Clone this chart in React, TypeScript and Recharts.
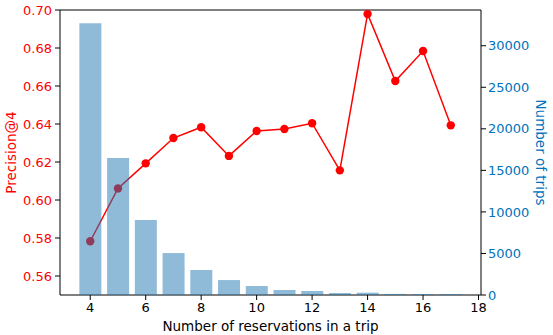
import {
  ComposedChart,
  Bar,
  Line,
  XAxis,
  YAxis,
  ReferenceLine,
  Label,
} from "recharts";

const reservations = [4, 5, 6, 7, 8, 9, 10, 11, 12, 13, 14, 15, 16, 17];
const precision = [
  0.5783, 0.6061, 0.6193, 0.6326, 0.6383, 0.6232, 0.6363, 0.6374, 0.6404,
  0.6156, 0.6979, 0.6626, 0.6784, 0.6393,
];
const trips = [
  32700, 16490, 9020, 5050, 3010, 1800, 1080, 600, 480, 240, 280, 130, 120,
  120,
];
const xTicks = [4, 6, 8, 10, 12, 14, 16, 18];
const leftTicks = [0.56, 0.58, 0.6, 0.62, 0.64, 0.66, 0.68, 0.7];
const rightTicks = [0, 5000, 10000, 15000, 20000, 25000, 30000];

const data = reservations.map((r, i) => ({
  n: r,
  precision: precision[i],
  trips: trips[i],
}));

const FONT = "DejaVu Sans, sans-serif";
const RED = "#ff0000";
const BLUE = "#0072bd";
const W = 553;
const H = 335;
const MARGIN = { top: 10, right: 0, bottom: 0, left: 0 };
const X_DOMAIN = [2.91, 18.09];
const RIGHT_DOMAIN = [0, 34300];

// matplotlib draws the twin-axis bars over the line, so the bars live in a
// second chart laid on top of the first one
function BarLayer() {
  return (
    <ComposedChart width={W} height={H} data={data} margin={MARGIN}>
      <XAxis
        dataKey="n"
        type="number"
        domain={X_DOMAIN}
        ticks={xTicks}
        allowDataOverflow
        height={40}
        tick={false}
        axisLine={false}
        tickLine={false}
      />
      <YAxis yAxisId="left" width={60} tick={false} axisLine={false} tickLine={false} />
      <YAxis
        yAxisId="right"
        orientation="right"
        domain={RIGHT_DOMAIN}
        allowDataOverflow
        width={72}
        tick={false}
        axisLine={false}
        tickLine={false}
      />
      <Bar
        yAxisId="right"
        dataKey="trips"
        fill="#1f77b4"
        fillOpacity={0.5}
        barSize={22}
        isAnimationActive={false}
      />
    </ComposedChart>
  );
}

export default function App() {
  return (
    <div style={{ position: "absolute", left: 0, top: 0, width: W, height: H, fontFamily: FONT }}>
      <div style={{ position: "absolute", left: 0, top: 0 }}>
        <ComposedChart width={W} height={H} data={data} margin={MARGIN}>
          <XAxis
            dataKey="n"
            type="number"
            domain={X_DOMAIN}
            ticks={xTicks}
            allowDataOverflow
            height={40}
            stroke="#000"
            tick={{ fill: "#000", fontSize: 13, fontFamily: FONT }}
            tickSize={5}
            tickMargin={3}
            tickLine={{ stroke: "#000" }}
          >
            <Label
              value="Number of reservations in a trip"
              position="insideBottom"
              offset={4}
              style={{ fill: "#000", fontSize: 13.5, fontFamily: FONT }}
            />
          </XAxis>
          <YAxis
            yAxisId="left"
            domain={[0.55, 0.7]}
            ticks={leftTicks}
            allowDataOverflow
            width={60}
            stroke="#000"
            tick={{ fill: RED, fontSize: 13, fontFamily: FONT }}
            tickFormatter={(v: number) => v.toFixed(2)}
            tickSize={5}
            tickMargin={3}
            tickLine={{ stroke: "#000" }}
          >
            <Label
              value="Precision@4"
              angle={-90}
              position="insideLeft"
              offset={11}
              style={{
                fill: RED,
                fontSize: 13.5,
                fontFamily: FONT,
                textAnchor: "middle",
              }}
            />
          </YAxis>
          <YAxis
            yAxisId="right"
            orientation="right"
            domain={RIGHT_DOMAIN}
            ticks={rightTicks}
            allowDataOverflow
            width={72}
            stroke="#000"
            tick={{ fill: BLUE, fontSize: 13, fontFamily: FONT }}
            tickSize={5}
            tickMargin={2}
            tickLine={{ stroke: "#000" }}
          >
            <Label
              value="Number of trips"
              angle={90}
              position="insideRight"
              offset={12}
              style={{
                fill: BLUE,
                fontSize: 13.5,
                fontFamily: FONT,
                textAnchor: "middle",
              }}
            />
          </YAxis>
          <ReferenceLine yAxisId="left" y={0.7} stroke="#000" />
          <Line
            yAxisId="left"
            dataKey="precision"
            stroke={RED}
            strokeWidth={1.5}
            dot={{ r: 4.2, fill: RED, stroke: RED, strokeWidth: 0 }}
            activeDot={false}
            isAnimationActive={false}
          />
        </ComposedChart>
      </div>
      <div style={{ position: "absolute", left: 0, top: 0 }}>
        <BarLayer />
      </div>
    </div>
  );
}
